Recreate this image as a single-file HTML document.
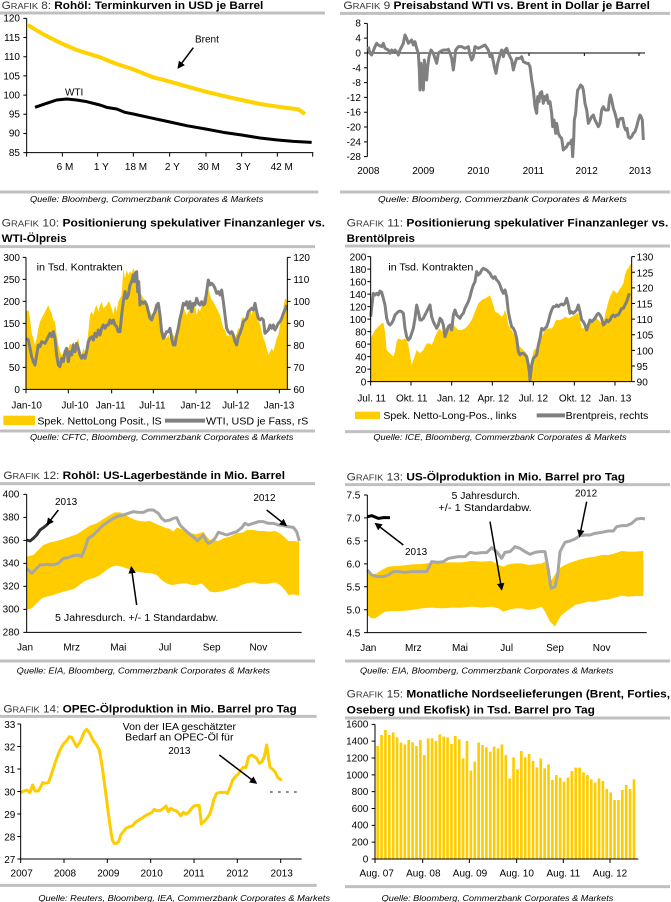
<!DOCTYPE html>
<html><head><meta charset="utf-8">
<style>
html,body{margin:0;padding:0;background:#fff;}
svg{display:block;font-family:"Liberation Sans",Arial,sans-serif;}
.t{font-size:33px;fill:#000;}
.g{fill:#333;font-weight:normal;}
.b{font-weight:bold;}
.tk{font-size:30px;fill:#000;}
.src{font-size:26px;font-style:italic;fill:#000;}
.ax{stroke:#000;stroke-width:3;fill:none;}
.rule{stroke:#c0c0c0;stroke-width:9;}
.ann{font-size:30px;fill:#000;}
.arr{stroke:#000;stroke-width:4.5;fill:none;marker-end:url(#ah);}
</style></head>
<body>
<svg width="671" height="902" viewBox="0 0 671 902" xmlns="http://www.w3.org/2000/svg">
<defs>
<marker id="ah" viewBox="0 0 10 10" refX="8" refY="5" markerWidth="5" markerHeight="5" orient="auto"><path d="M0,0 L10,5 L0,10 z" fill="#000"/></marker>
</defs>
<rect width="671" height="902" fill="#fff"/>

<!-- ===== CHART 8 ===== -->
<g transform="translate(0,0) scale(0.333333)">
<text class="t" x="5" y="27" textLength="785" lengthAdjust="spacingAndGlyphs"><tspan class="g">G</tspan><tspan class="g" font-size="26">RAFIK</tspan><tspan class="g"> 8: </tspan><tspan class="b">Rohöl: Terminkurven in USD je Barrel</tspan></text>
<line class="rule" x1="0" y1="39" x2="975" y2="39"/>
<path class="ax" d="M80,55 V458 H940 M70,55H80 M70,112.6H80 M70,170.1H80 M70,227.7H80 M70,285.3H80 M70,342.9H80 M70,400.4H80 M70,458H80 M80,458V470 M187,458V470 M293,458V470 M400,458V470 M509,458V470 M618,458V470 M725,458V470 M832,458V470 M938,458V470"/>
<g class="tk" text-anchor="end">
<text x="60" y="65">120</text><text x="60" y="123">115</text><text x="60" y="180">110</text><text x="60" y="238">105</text><text x="60" y="295">100</text><text x="60" y="353">95</text><text x="60" y="410">90</text><text x="60" y="468">85</text>
</g>
<g class="tk" text-anchor="middle">
<text x="195" y="510">6 M</text><text x="304" y="510">1 Y</text><text x="408" y="510">18 M</text><text x="517" y="510">2 Y</text><text x="626" y="510">30 M</text><text x="730" y="510">3 Y</text><text x="845" y="510">42 M</text>
</g>
<polyline fill="none" stroke="#FFD200" stroke-width="12" stroke-linejoin="round" points="83,75 100,85 130,103 180,128 230,150 295,170 350,192 400,208 460,232 510,245 570,262 617,275 680,290 725,300 780,312 833,320 895,328 905,335 915,342"/>
<polyline fill="none" stroke="#000" stroke-width="9" stroke-linejoin="round" points="105,322 140,310 170,300 200,297 230,300 260,305 300,315 320,322 350,327 375,337 400,342 450,353 510,366 560,377 617,387 670,397 725,405 780,414 833,420 880,424 935,427"/>
<text class="ann" x="585" y="128">Brent</text>
<text class="ann" x="195" y="287">WTI</text>
<line class="arr" x1="580" y1="143" x2="535" y2="203"/>
<line class="rule" x1="0" y1="576" x2="955" y2="576"/>
<text class="src" x="90" y="606" textLength="700" lengthAdjust="spacingAndGlyphs">Quelle: Bloomberg, Commerzbank Corporates &amp; Markets</text>
</g>

<!-- ===== CHART 9 ===== -->
<g transform="translate(335,0) scale(0.333333)">
<text class="t" x="25" y="27" textLength="920" lengthAdjust="spacingAndGlyphs"><tspan class="g">G</tspan><tspan class="g" font-size="26">RAFIK</tspan><tspan class="g"> 9 </tspan><tspan class="b">Preisabstand WTI vs. Brent in Dollar je Barrel</tspan></text>
<line class="rule" x1="15" y1="40" x2="1005" y2="40"/>
<path class="ax" d="M97,70 V470 M87,70H97 M87,114.4H97 M87,158.9H97 M87,203.3H97 M87,247.8H97 M87,292.2H97 M87,336.7H97 M87,381.1H97 M87,425.6H97 M87,470H97 M97,158.9H930 M253,158.9V168 M418,158.9V168 M582,158.9V168 M748,158.9V168 M912,158.9V168"/>
<g class="tk" text-anchor="end" font-size="31">
<text x="78" y="80">8</text><text x="78" y="125">4</text><text x="78" y="169">0</text><text x="78" y="214">-4</text><text x="78" y="258">-8</text><text x="78" y="303">-12</text><text x="78" y="347">-16</text><text x="78" y="391">-20</text><text x="78" y="436">-24</text><text x="78" y="480">-28</text>
</g>
<g class="tk" text-anchor="middle" font-size="31">
<text x="100" y="522">2008</text><text x="265" y="522">2009</text><text x="430" y="522">2010</text><text x="595" y="522">2011</text><text x="755" y="522">2012</text><text x="915" y="522">2013</text>
</g>
<polyline fill="none" stroke="#808080" stroke-width="9" stroke-linejoin="round" points="100,140 105,160 110,165 120,140 125,130 130,135 140,140 145,130 150,145 160,150 165,160 170,150 175,155 180,150 185,155 190,165 195,150 200,140 205,130 210,105 215,115 220,130 225,125 230,120 235,135 240,125 245,145 250,160 253,210 255,270 258,190 262,240 265,270 268,180 272,210 275,240 278,200 282,170 288,150 295,160 300,175 305,190 310,160 315,155 325,150 335,150 340,148 345,160 350,175 355,210 358,185 362,150 370,140 380,140 390,145 400,140 405,165 410,180 415,170 420,140 430,145 440,140 450,135 460,150 465,170 470,160 478,200 483,220 488,190 495,165 500,150 505,170 510,150 515,145 520,160 530,180 535,210 540,190 545,175 555,175 560,170 565,185 575,190 580,190 585,200 590,240 595,270 600,320 605,340 608,290 612,305 615,280 620,275 625,310 628,290 632,300 636,285 640,310 645,305 650,340 653,380 657,360 662,400 665,370 670,400 675,410 680,415 685,450 690,445 695,440 700,430 705,430 710,420 713,470 716,420 718,360 722,340 725,300 728,270 732,265 737,255 742,260 745,270 750,310 755,330 760,370 765,360 770,350 775,345 780,360 785,370 790,380 795,370 800,330 805,320 810,330 820,330 823,300 826,285 830,300 835,325 840,340 845,360 848,380 852,360 858,355 863,355 868,380 872,390 876,385 880,410 885,415 890,410 895,400 900,395 905,380 910,360 915,345 918,350 922,360 925,420"/>
<line class="rule" x1="15" y1="576" x2="1005" y2="576"/>
<text class="src" x="129" y="606" textLength="747" lengthAdjust="spacingAndGlyphs">Quelle: Bloomberg, Commerzbank Corporates &amp; Markets</text>
</g>

<!-- ===== CHART 10 ===== -->
<g transform="translate(0,205) scale(0.333333)">
<text class="t" x="5" y="65" textLength="970" lengthAdjust="spacingAndGlyphs"><tspan class="g">G</tspan><tspan class="g" font-size="26">RAFIK</tspan><tspan class="g"> 10: </tspan><tspan class="b">Positionierung spekulativer Finanzanleger vs.</tspan></text>
<text class="t b" x="5" y="111" textLength="195" lengthAdjust="spacingAndGlyphs">WTI-Ölpreis</text>
<line class="rule" x1="0" y1="125" x2="945" y2="125"/>
<polygon fill="#FFCC00" points="78,320 85,315 90,340 95,385 100,400 105,420 110,400 115,370 120,350 130,330 140,310 145,300 150,315 155,325 160,345 165,350 170,390 175,420 180,440 185,450 190,445 195,430 200,445 205,430 210,415 215,420 220,410 225,420 230,410 235,400 240,440 245,450 250,430 255,440 260,425 265,380 270,330 275,320 280,330 285,310 290,300 295,320 300,300 305,290 310,310 320,300 325,290 330,295 335,310 340,330 345,300 350,320 355,290 360,280 365,270 370,190 375,220 380,195 385,210 390,200 395,205 400,190 405,200 410,220 415,240 420,260 425,270 430,280 435,285 440,290 445,300 450,320 455,330 460,330 470,310 475,300 480,330 485,360 490,380 495,390 500,400 505,390 510,400 515,380 520,390 525,395 530,370 535,340 540,330 545,310 550,300 555,320 560,330 565,320 570,310 575,320 580,310 585,300 590,330 595,310 600,320 605,300 610,280 615,270 620,260 625,250 630,270 635,285 640,290 645,300 650,310 655,320 660,330 665,350 670,370 675,375 680,390 685,395 690,380 695,390 700,400 705,400 710,385 715,370 720,370 725,340 730,335 735,350 740,345 745,320 750,310 755,330 760,310 765,320 770,330 775,350 780,355 785,380 790,400 795,410 800,430 805,450 810,440 815,430 820,440 825,420 830,400 835,390 840,360 845,330 850,310 855,280 860,285 862,300 862,553 78,553"/>
<polyline fill="none" stroke="#808080" stroke-width="9" stroke-linejoin="round" points="78,400 85,405 90,430 95,455 100,470 105,480 110,450 115,420 120,425 125,410 135,415 140,405 145,395 150,385 155,395 160,380 165,400 170,450 175,480 180,485 185,460 190,470 195,440 200,430 205,470 210,440 215,450 220,420 225,440 230,415 235,430 240,450 245,460 250,450 255,460 260,440 265,410 270,400 275,395 280,405 285,385 290,395 295,375 300,390 305,370 310,360 315,370 320,360 325,360 330,345 335,355 340,345 345,360 350,365 355,380 360,380 365,330 370,290 375,260 380,280 385,270 390,240 395,230 400,210 403,230 406,205 410,200 413,260 416,230 420,300 425,290 430,295 435,290 440,300 445,320 450,340 455,345 460,330 465,320 470,300 475,295 480,330 485,380 490,400 495,390 500,380 505,380 510,370 515,400 520,420 525,420 530,390 535,370 540,340 545,320 550,295 555,300 560,290 565,310 570,290 575,320 580,295 585,300 590,280 595,295 600,300 605,290 610,300 615,295 620,260 625,225 630,240 635,235 640,240 645,250 650,265 655,260 660,270 665,255 670,290 675,330 680,370 685,380 690,385 695,380 700,390 705,410 710,420 715,395 720,385 725,370 730,350 735,345 740,340 745,320 750,315 755,310 760,315 765,295 770,320 775,340 780,345 785,340 790,345 795,385 800,380 805,375 810,360 815,370 820,360 825,375 830,365 835,355 840,350 845,340 850,325 855,315 860,300"/>
<path class="ax" d="M78,157 V553 H862 V157 M68,157H78 M68,223H78 M68,289H78 M68,355H78 M68,421H78 M68,487H78 M68,553H78 M862,157H872 M862,223H872 M862,289H872 M862,355H872 M862,421H872 M862,487H872 M862,553H872 M78,553V565 M205,553V565 M335,553V565 M460,553V565 M588,553V565 M712,553V565 M838,553V565"/>
<g class="tk" text-anchor="end" font-size="33">
<text x="60" y="168">300</text><text x="60" y="234">250</text><text x="60" y="300">200</text><text x="60" y="366">150</text><text x="60" y="432">100</text><text x="60" y="498">50</text><text x="60" y="564">0</text>
</g>
<g class="tk" font-size="33">
<text x="880" y="168">120</text><text x="880" y="234">110</text><text x="880" y="300">100</text><text x="880" y="366">90</text><text x="880" y="432">80</text><text x="880" y="498">70</text><text x="880" y="564">60</text>
</g>
<g class="tk" text-anchor="middle" font-size="32">
<text x="80" y="611">Jan-10</text><text x="225" y="611">Jul-10</text><text x="332" y="611">Jan-11</text><text x="457" y="611">Jul-11</text><text x="587" y="611">Jan-12</text><text x="707" y="611">Jul-12</text><text x="837" y="611">Jan-13</text>
</g>
<text class="ann" x="110" y="197" font-size="32" textLength="258" lengthAdjust="spacingAndGlyphs">in Tsd. Kontrakten</text>
<rect x="10" y="632" width="95" height="28" fill="#FFCC00"/>
<text class="ann" x="112" y="658" font-size="32" textLength="373" lengthAdjust="spacingAndGlyphs">Spek. NettoLong Posit., lS</text>
<line x1="495" y1="647" x2="615" y2="647" stroke="#808080" stroke-width="12"/>
<text class="ann" x="618" y="658" font-size="32" textLength="307" lengthAdjust="spacingAndGlyphs">WTI, USD je Fass, rS</text>
<line class="rule" x1="0" y1="678" x2="945" y2="678" stroke-width="7"/>
<text class="src" x="90" y="705" textLength="790" lengthAdjust="spacingAndGlyphs">Quelle: CFTC, Bloomberg, Commerzbank Corporates &amp; Markets</text>
</g>

<!-- ===== CHART 11 ===== -->
<g transform="translate(335,205) scale(0.333333)">
<text class="t" x="35" y="65" textLength="965" lengthAdjust="spacingAndGlyphs"><tspan class="g">G</tspan><tspan class="g" font-size="26">RAFIK</tspan><tspan class="g"> 11: </tspan><tspan class="b">Positionierung spekulativer Finanzanleger vs.</tspan></text>
<text class="t b" x="35" y="111" textLength="205" lengthAdjust="spacingAndGlyphs">Brentölpreis</text>
<line class="rule" x1="30" y1="123" x2="1005" y2="123"/>
<polygon fill="#FFCC00" points="107,400 112,390 120,375 130,365 140,355 145,353 150,380 155,435 165,445 175,455 180,440 185,410 190,400 200,405 210,400 215,405 220,420 225,450 230,480 235,465 240,450 245,435 255,445 260,440 265,435 270,425 275,415 285,415 290,420 295,410 300,395 305,385 310,375 315,370 320,380 330,370 340,365 350,360 355,355 360,365 370,375 380,375 390,370 400,360 410,345 420,320 430,295 440,285 450,280 455,278 460,275 465,270 470,285 475,300 480,320 490,325 495,330 500,335 505,330 510,315 515,330 520,360 530,375 540,395 550,420 560,430 570,440 575,445 580,455 585,480 590,470 595,440 600,430 605,435 610,430 615,415 620,395 625,385 630,375 640,370 650,370 655,365 660,350 665,345 675,345 685,340 690,335 700,340 710,335 720,330 725,325 730,325 735,345 740,370 745,370 750,365 760,370 765,350 775,345 785,340 790,345 800,355 805,360 810,330 815,310 820,290 825,275 830,265 835,255 840,260 845,265 850,260 855,250 860,245 865,235 870,210 875,195 880,190 885,180 890,175 890,530 107,530"/>
<polyline fill="none" stroke="#808080" stroke-width="9" stroke-linejoin="round" points="107,335 112,290 115,265 120,270 125,265 130,270 135,258 140,262 145,280 150,300 155,340 160,355 165,360 170,355 175,345 180,330 185,325 190,320 195,318 200,320 205,325 210,370 215,395 220,405 225,400 230,385 235,370 240,340 245,300 250,320 255,345 260,345 265,340 270,330 275,320 280,310 285,300 290,335 295,350 300,360 305,370 310,360 315,340 320,345 325,360 330,395 335,380 340,365 345,360 350,375 355,330 360,315 365,330 370,335 375,340 380,330 385,325 390,310 395,300 400,290 405,275 410,255 415,240 420,230 425,200 430,210 435,205 440,195 445,190 450,193 455,195 460,200 465,205 470,215 475,220 480,215 485,225 490,230 495,240 500,255 505,265 510,255 515,275 520,320 525,345 530,365 535,370 540,380 545,400 550,440 555,450 560,445 565,445 570,450 575,455 580,480 583,500 585,525 590,480 595,460 600,455 605,450 610,420 615,400 620,370 625,375 630,370 635,365 640,350 645,330 650,315 655,305 660,305 665,300 670,305 675,300 680,297 685,300 690,295 695,280 700,300 705,325 710,320 715,325 720,320 725,315 730,300 735,320 740,345 745,350 750,360 755,375 760,360 765,345 770,350 775,345 780,340 785,330 790,325 795,330 800,340 805,360 810,355 815,345 820,350 825,345 830,335 835,330 840,335 845,330 850,330 855,320 860,310 865,310 870,300 875,290 880,275 883,265"/>
<path class="ax" d="M107,155 V530 H890 V155 M97,155H107 M97,192.5H107 M97,230H107 M97,267.5H107 M97,305H107 M97,342.5H107 M97,380H107 M97,417.5H107 M97,455H107 M97,492.5H107 M97,530H107 M890,155H900 M890,201.9H900 M890,248.75H900 M890,295.6H900 M890,342.5H900 M890,389.4H900 M890,436.25H900 M890,483.1H900 M890,530H900 M107,530V542 M228,530V542 M350,530V542 M472,530V542 M595,530V542 M718,530V542 M840,530V542"/>
<g class="tk" text-anchor="end" font-size="34">
<text x="94" y="167">200</text><text x="94" y="204">180</text><text x="94" y="242">160</text><text x="94" y="279">140</text><text x="94" y="317">120</text><text x="94" y="354">100</text><text x="94" y="392">80</text><text x="94" y="429">60</text><text x="94" y="467">40</text><text x="94" y="504">20</text><text x="94" y="542">0</text>
</g>
<g class="tk" font-size="34">
<text x="905" y="167">130</text><text x="905" y="214">125</text><text x="905" y="260">120</text><text x="905" y="307">115</text><text x="905" y="354">110</text><text x="905" y="401">105</text><text x="905" y="448">100</text><text x="905" y="495">95</text><text x="905" y="542">90</text>
</g>
<g class="tk" text-anchor="middle" font-size="33">
<text x="110" y="589">Jul. 11</text><text x="230" y="589">Okt. 11</text><text x="355" y="589">Jan. 12</text><text x="475" y="589">Apr. 12</text><text x="595" y="589">Jul. 12</text><text x="720" y="589">Okt. 12</text><text x="840" y="589">Jan. 13</text>
</g>
<text class="ann" x="160" y="197" font-size="32" textLength="255" lengthAdjust="spacingAndGlyphs">in Tsd. Kontrakten</text>
<rect x="60" y="620" width="75" height="22" fill="#FFCC00"/>
<text class="ann" x="145" y="642" font-size="32" textLength="400" lengthAdjust="spacingAndGlyphs">Spek. Netto-Long-Pos., links</text>
<line x1="605" y1="631" x2="690" y2="631" stroke="#808080" stroke-width="12"/>
<text class="ann" x="692" y="642" font-size="32" textLength="248" lengthAdjust="spacingAndGlyphs">Brentpreis, rechts</text>
<line class="rule" x1="30" y1="680" x2="1005" y2="680" stroke-width="7"/>
<text class="src" x="115" y="705" textLength="760" lengthAdjust="spacingAndGlyphs">Quelle: ICE, Bloomberg, Commerzbank Corporates &amp; Markets</text>
</g>

<!-- ===== CHART 12 ===== -->
<g transform="translate(0,455) scale(0.333333)">
<text class="t" x="10" y="72" textLength="845" lengthAdjust="spacingAndGlyphs"><tspan class="g">G</tspan><tspan class="g" font-size="26">RAFIK</tspan><tspan class="g"> 12: </tspan><tspan class="b">Rohöl: US-Lagerbestände in Mio. Barrel</tspan></text>
<line class="rule" x1="0" y1="86" x2="945" y2="86"/>
<polygon fill="#FFCC00" points="80,305 100,300 115,285 130,270 150,262 170,258 190,252 210,245 230,238 250,225 270,212 290,205 310,192 330,180 345,172 360,172 375,178 390,188 405,195 420,198 435,200 450,198 465,205 480,212 495,218 510,222 520,230 530,218 545,222 560,228 575,235 590,238 605,232 610,230 620,245 630,255 640,255 655,258 670,250 690,245 710,235 730,232 740,225 760,225 775,228 790,228 810,230 825,228 840,235 855,248 865,258 880,258 897,260 897,422 880,418 865,420 855,405 840,390 825,382 810,385 790,388 775,385 760,382 740,385 725,390 710,398 695,400 680,405 660,410 645,412 630,410 620,400 605,385 590,390 575,390 560,385 545,385 530,388 515,390 500,385 485,375 470,360 455,355 440,354 425,352 410,350 395,345 380,340 365,335 350,332 335,335 320,345 300,360 285,368 270,372 255,378 240,388 225,400 210,405 190,410 175,415 160,420 140,425 125,430 110,445 95,460 80,465"/>
<polyline fill="none" stroke="#A6A6A6" stroke-width="9" stroke-linejoin="round" points="80,340 95,355 105,345 120,330 140,328 160,330 175,325 190,310 205,308 220,302 235,300 245,305 255,280 265,250 280,240 295,225 310,210 325,200 340,190 355,183 370,180 385,175 400,170 415,172 430,172 445,165 460,165 475,175 485,190 495,198 510,195 520,190 530,188 540,210 555,225 570,238 585,250 592,258 600,250 610,240 620,260 625,265 635,260 645,250 655,232 665,235 680,240 695,235 710,230 725,218 735,205 745,210 760,205 775,200 790,200 805,205 820,205 835,210 850,212 865,215 880,217 890,230 898,258"/>
<polyline fill="none" stroke="#333" stroke-width="9" stroke-linejoin="round" points="80,255 90,258 100,250 110,240 120,225 130,218 140,210 145,205"/>
<path class="ax" d="M80,118 V532 H905 M70,118H80 M70,187H80 M70,256H80 M70,325H80 M70,394H80 M70,463H80 M70,532H80"/>
<g class="tk" text-anchor="end">
<text x="58" y="128">400</text><text x="58" y="197">380</text><text x="58" y="266">360</text><text x="58" y="335">340</text><text x="58" y="404">320</text><text x="58" y="473">300</text><text x="58" y="542">280</text>
</g>
<g class="tk" text-anchor="middle">
<text x="75" y="586">Jan</text><text x="215" y="586">Mrz</text><text x="355" y="586">Mai</text><text x="495" y="586">Jul</text><text x="635" y="586">Sep</text><text x="775" y="586">Nov</text>
</g>
<text class="ann" x="165" y="150">2013</text>
<line class="arr" x1="175" y1="165" x2="142" y2="208"/>
<text class="ann" x="760" y="138">2012</text>
<line class="arr" x1="800" y1="165" x2="858" y2="211"/>
<text class="ann" x="165" y="498" textLength="490" lengthAdjust="spacingAndGlyphs">5 Jahresdurch. +/-  1 Standardabw.</text>
<line class="arr" x1="410" y1="450" x2="394" y2="337"/>
<line class="rule" x1="0" y1="618" x2="945" y2="618" stroke-width="7"/>
<text class="src" x="50" y="656" textLength="760" lengthAdjust="spacingAndGlyphs">Quelle: EIA, Bloomberg, Commerzbank Corporates &amp; Markets</text>
</g>

<!-- ===== CHART 13 ===== -->
<g transform="translate(335,455) scale(0.333333)">
<text class="t" x="35" y="76" textLength="835" lengthAdjust="spacingAndGlyphs"><tspan class="g">G</tspan><tspan class="g" font-size="26">RAFIK</tspan><tspan class="g"> 13: </tspan><tspan class="b">US-Ölproduktion in Mio. Barrel pro Tag</tspan></text>
<line class="rule" x1="30" y1="89" x2="1005" y2="89"/>
<polygon fill="#FFCC00" points="97,345 110,358 125,355 140,345 160,335 180,333 200,332 230,328 260,327 290,323 320,322 350,322 380,322 410,318 440,320 470,318 490,330 505,335 520,328 540,325 560,325 580,330 600,328 620,325 630,320 640,360 650,375 665,350 680,335 700,325 720,318 740,312 760,308 780,305 800,300 820,300 840,295 860,288 880,290 900,290 925,288 925,423 900,423 880,425 860,422 840,428 820,433 800,435 780,440 760,440 740,445 720,450 700,465 680,480 670,495 660,515 645,500 630,470 620,455 600,462 580,465 560,460 540,460 520,465 505,470 490,460 470,455 440,458 410,455 380,458 350,458 320,460 290,458 260,460 230,465 200,468 170,468 150,470 135,480 120,490 110,490 97,480"/>
<polyline fill="none" stroke="#A6A6A6" stroke-width="9" stroke-linejoin="round" points="97,345 110,360 125,365 145,365 160,360 175,350 190,350 210,352 230,350 250,350 275,350 290,320 310,322 325,320 340,310 370,305 390,305 405,292 420,295 440,293 455,293 470,278 485,290 500,310 510,292 525,290 540,275 555,280 570,290 585,298 600,292 615,290 630,290 640,345 648,400 660,395 668,360 675,290 690,262 705,258 720,252 735,242 750,240 765,240 780,235 800,232 820,228 835,228 845,215 860,212 875,212 890,205 905,192 920,190 930,192"/>
<polyline fill="none" stroke="#000" stroke-width="9" stroke-linejoin="round" points="97,185 110,182 120,186 130,190 145,188 165,188"/>
<path class="ax" d="M97,120 V533 H935 M87,120H97 M87,188.8H97 M87,257.7H97 M87,326.5H97 M87,395.3H97 M87,464.2H97 M87,533H97"/>
<g class="tk" text-anchor="end" font-size="32">
<text x="76" y="131">7.5</text><text x="76" y="200">7.0</text><text x="76" y="269">6.5</text><text x="76" y="338">6.0</text><text x="76" y="406">5.5</text><text x="76" y="475">5.0</text><text x="76" y="544">4.5</text>
</g>
<g class="tk" text-anchor="middle" font-size="31">
<text x="100" y="588">Jan</text><text x="235" y="588">Mrz</text><text x="375" y="588">Mai</text><text x="515" y="588">Jul</text><text x="660" y="588">Sep</text><text x="800" y="588">Nov</text>
</g>
<text class="ann" x="350" y="132" textLength="205" lengthAdjust="spacingAndGlyphs">5 Jahresdurch.</text>
<text class="ann" x="310" y="168" textLength="280" lengthAdjust="spacingAndGlyphs">+/-  1 Standardabw.</text>
<line class="arr" x1="465" y1="200" x2="500" y2="403"/>
<text class="ann" x="720" y="125">2012</text>
<line class="arr" x1="755" y1="140" x2="734" y2="243"/>
<text class="ann" x="210" y="300">2013</text>
<line class="arr" x1="205" y1="270" x2="122" y2="206"/>
<line class="rule" x1="30" y1="618" x2="1005" y2="618" stroke-width="7"/>
<text class="src" x="75" y="656" textLength="760" lengthAdjust="spacingAndGlyphs">Quelle: EIA, Bloomberg, Commerzbank Corporates &amp; Markets</text>
</g>

<!-- ===== CHART 14 ===== -->
<g transform="translate(0,680) scale(0.333333)">
<text class="t" x="10" y="97" textLength="880" lengthAdjust="spacingAndGlyphs"><tspan class="g">G</tspan><tspan class="g" font-size="26">RAFIK</tspan><tspan class="g"> 14: </tspan><tspan class="b">OPEC-Ölproduktion in Mio. Barrel pro Tag</tspan></text>
<line class="rule" x1="0" y1="109" x2="950" y2="109"/>
<polyline fill="none" stroke="#FFCC00" stroke-width="9" stroke-linejoin="round" points="62,338 72,333 80,330 90,338 98,315 105,333 115,333 120,325 128,308 135,310 145,308 152,290 160,265 170,235 180,210 190,192 200,182 208,170 215,172 222,185 230,200 238,190 245,175 253,155 260,148 268,158 275,172 282,185 290,195 298,210 305,250 312,300 318,345 325,400 332,450 337,480 342,490 350,490 356,485 362,465 370,455 378,445 388,440 398,437 405,428 413,422 425,415 435,408 445,402 455,398 463,388 470,392 480,392 490,385 498,378 505,395 512,385 520,390 528,392 537,400 542,408 550,397 558,402 565,398 575,385 583,377 590,377 598,377 604,432 612,425 620,416 628,405 635,385 642,357 650,340 660,337 668,337 675,337 683,340 690,322 698,300 708,288 715,282 722,270 730,262 738,262 746,230 755,225 763,230 770,235 778,250 786,245 793,230 800,195 805,230 810,262 818,268 825,275 833,292 840,298 846,300"/>
<line x1="810" y1="336" x2="890" y2="336" stroke="#444" stroke-width="4" stroke-dasharray="8,16"/>
<path class="ax" d="M62,132 V537 H905 M52,132H62 M52,199.5H62 M52,267H62 M52,334.5H62 M52,402H62 M52,469.5H62 M52,537H62 M62,537V549 M192,537V549 M322,537V549 M452,537V549 M582,537V549 M712,537V549 M842,537V549"/>
<g class="tk" text-anchor="end" font-size="33">
<text x="46" y="144">33</text><text x="46" y="211">32</text><text x="46" y="279">31</text><text x="46" y="346">30</text><text x="46" y="414">29</text><text x="46" y="481">28</text><text x="46" y="549">27</text>
</g>
<g class="tk" text-anchor="middle" font-size="32">
<text x="65" y="589">2007</text><text x="195" y="589">2008</text><text x="325" y="589">2009</text><text x="455" y="589">2010</text><text x="582" y="589">2011</text><text x="712" y="589">2012</text><text x="845" y="589">2013</text>
</g>
<g class="ann" text-anchor="middle">
<text x="538" y="150" textLength="340" lengthAdjust="spacingAndGlyphs">Von der IEA geschätzter</text>
<text x="538" y="182" textLength="325" lengthAdjust="spacingAndGlyphs">Bedarf an OPEC-Öl für</text>
<text x="538" y="222">2013</text>
</g>
<line class="arr" x1="658" y1="225" x2="768" y2="309"/>
<line class="rule" x1="0" y1="616" x2="950" y2="616" stroke-width="7"/>
<text class="src" x="115" y="663" textLength="875" lengthAdjust="spacingAndGlyphs">Quelle: Reuters, Bloomberg, IEA, Commerzbank Corporates &amp; Markets</text>
</g>

<!-- ===== CHART 15 ===== -->
<g transform="translate(335,680) scale(0.333333)">
<text class="t" x="35" y="53" textLength="970" lengthAdjust="spacingAndGlyphs"><tspan class="g">G</tspan><tspan class="g" font-size="26">RAFIK</tspan><tspan class="g"> 15: </tspan><tspan class="b">Monatliche Nordseelieferungen (Brent, Forties,</tspan></text>
<text class="t b" x="35" y="101" textLength="745" lengthAdjust="spacingAndGlyphs">Oseberg und Ekofisk) in Tsd. Barrel pro Tag</text>
<line class="rule" x1="30" y1="114" x2="1005" y2="114"/>
<path fill="none" stroke="#FFCC00" stroke-width="8" d="M128,198V537 M139.65,165V537 M151.3,150V537 M162.95,165V537 M174.6,157V537 M186.25,172V537 M197.9,188V537 M209.55,193V537 M221.2,180V537 M232.85,187V537 M244.5,198V537 M256.15,180V537 M267.8,225V537 M279.45,175V537 M291.1,175V537 M302.75,183V537 M314.4,163V537 M326.05,170V537 M337.7,172V537 M349.35,192V537 M361,168V537 M372.65,178V537 M384.3,235V537 M395.95,183V537 M407.6,272V537 M419.25,245V537 M430.9,188V537 M442.55,195V537 M454.2,202V537 M465.85,215V537 M477.5,200V537 M489.15,205V537 M500.8,193V537 M512.45,225V537 M524.1,295V537 M535.75,232V537 M547.4,268V537 M559.05,213V537 M570.7,232V537 M582.35,222V537 M594,243V537 M605.65,262V537 M617.3,235V537 M628.95,265V537 M640.6,253V537 M652.25,300V537 M663.9,285V537 M675.55,293V537 M687.2,305V537 M698.85,293V537 M710.5,273V537 M722.15,263V537 M733.8,263V537 M745.45,277V537 M757.1,285V537 M768.75,298V537 M780.4,308V537 M792.05,295V537 M803.7,303V537 M815.35,327V537 M827,337V537 M838.65,360V537 M850.3,360V537 M861.95,330V537 M873.6,315V537 M885.25,327V537 M896.9,298V537"/>
<path class="ax" d="M120,133 V537 H910 M110,133H120 M110,183.5H120 M110,234H120 M110,284.5H120 M110,335H120 M110,385.5H120 M110,436H120 M110,486.5H120 M110,537H120 M120,537V549 M263,537V549 M403,537V549 M545,537V549 M685,537V549 M825,537V549"/>
<g class="tk" text-anchor="end" font-size="29">
<text x="100" y="143">1600</text><text x="100" y="194">1400</text><text x="100" y="244">1200</text><text x="100" y="295">1000</text><text x="100" y="345">800</text><text x="100" y="396">600</text><text x="100" y="446">400</text><text x="100" y="497">200</text><text x="100" y="547">0</text>
</g>
<g class="tk" text-anchor="middle" font-size="30">
<text x="125" y="589">Aug. 07</text><text x="265" y="589">Aug. 08</text><text x="405" y="589">Aug. 09</text><text x="545" y="589">Aug. 10</text><text x="685" y="589">Aug. 11</text><text x="825" y="589">Aug. 12</text>
</g>
<line class="rule" x1="30" y1="620" x2="1005" y2="620" stroke-width="7"/>
<text class="src" x="140" y="663" textLength="695" lengthAdjust="spacingAndGlyphs">Quelle: Bloomberg, Commerzbank Corporates &amp; Markets</text>
</g>
</svg>
</body></html>
